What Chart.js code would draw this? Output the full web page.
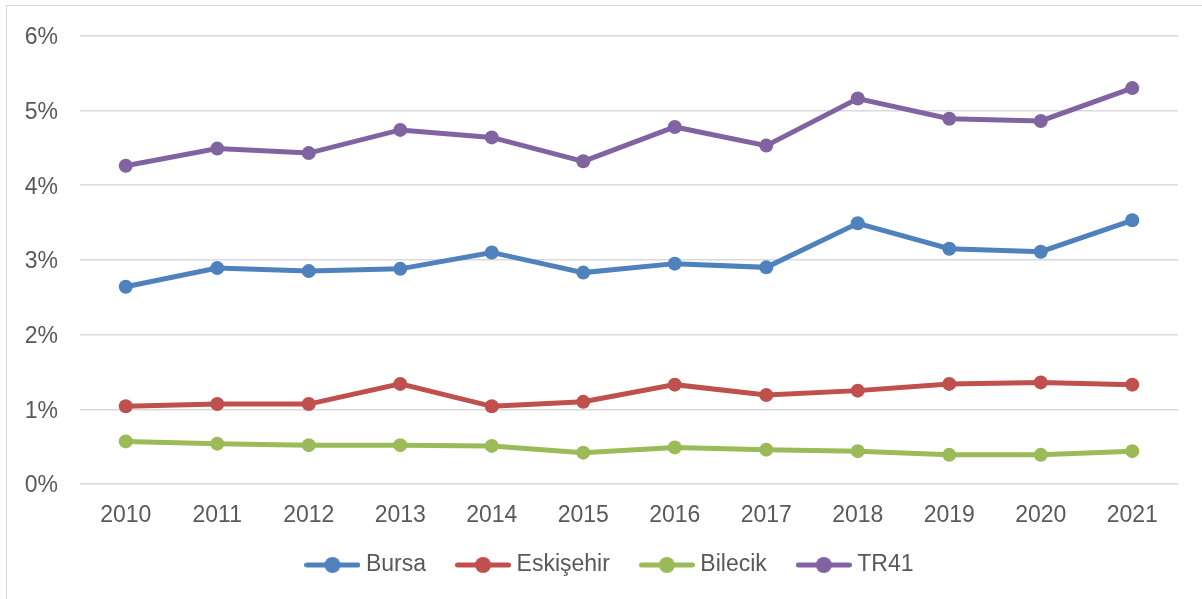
<!DOCTYPE html>
<html>
<head>
<meta charset="utf-8">
<script src="https://cdn.jsdelivr.net/npm/chart.js@4"></script>
<style>
  html, body { margin: 0; padding: 0; background: #fff; }
  body { width: 1202px; height: 599px; position: relative; overflow: hidden; }
  .frame { position: absolute; left: 6px; top: 5px; width: 1300px; height: 700px; border: 1.5px solid #d9d9d9; }
  .wrap { position: absolute; left: 0; top: 0; width: 1202px; height: 599px; }
</style>
</head>
<body>
<div class="frame"></div>
<div class="wrap"><canvas id="myChart" width="1202" height="599"></canvas></div>
<script>
const years = ["2010", "2011", "2012", "2013", "2014", "2015", "2016", "2017", "2018", "2019", "2020", "2021"];
const bursa = [2.64, 2.89, 2.85, 2.88, 3.10, 2.83, 2.95, 2.90, 3.49, 3.15, 3.11, 3.53];
const eskisehir = [1.04, 1.07, 1.07, 1.34, 1.04, 1.10, 1.33, 1.19, 1.25, 1.34, 1.36, 1.33];
const bilecik = [0.57, 0.54, 0.52, 0.52, 0.51, 0.42, 0.49, 0.46, 0.44, 0.39, 0.39, 0.44];
const tr41 = [4.26, 4.49, 4.43, 4.74, 4.64, 4.32, 4.78, 4.53, 5.16, 4.89, 4.86, 5.30];
const seriesNames = ["Bursa", "Eskişehir", "Bilecik", "TR41"];
const colors = ["#4f81bd", "#c0504d", "#9bbb59", "#8064a2"];
const yTicks = [0, 1, 2, 3, 4, 5, 6];

const FONT = { family: "'Liberation Sans', Arial", size: 23 };

// legend icon: short line with a dot in the middle
function legendIcon(color) {
  const c = document.createElement("canvas");
  c.width = 56;
  c.height = 18;
  const g = c.getContext("2d");
  g.strokeStyle = color;
  g.lineWidth = 5;
  g.lineCap = "round";
  g.beginPath();
  g.moveTo(2.5, 9);
  g.lineTo(53.5, 9);
  g.stroke();
  g.fillStyle = color;
  g.beginPath();
  g.arc(28, 9, 8, 0, Math.PI * 2);
  g.fill();
  return c;
}

// legend sits a bit right of the plot centre and closer to the axis labels
const legendShift = {
  id: "legendShift",
  afterLayout(chart) {
    const lg = chart.legend;
    lg.left += 23;
    lg.right += 23;
    lg.top -= 12.5;
    lg.bottom -= 12.5;
  },
};

const values = [bursa, eskisehir, bilecik, tr41];
const datasets = seriesNames.map((name, i) => ({
  label: name,
  data: values[i],
  borderColor: colors[i],
  backgroundColor: colors[i],
  borderWidth: 5,
  pointRadius: 7,
  pointHoverRadius: 7,
  pointBorderWidth: 0,
  tension: 0,
}));

const ctx = document.getElementById("myChart");
new Chart(ctx, {
  type: "line",
  data: { labels: years, datasets: datasets },
  plugins: [legendShift],
  options: {
    responsive: false,
    animation: false,
    devicePixelRatio: 1,
    layout: { padding: { top: 35.5, right: 24, bottom: 0, left: 0 } },
    plugins: {
      tooltip: { enabled: false },
      legend: {
        position: "bottom",
        labels: {
          usePointStyle: true,
          pointStyleWidth: 44,
          padding: 35,
          color: "#595959",
          font: FONT,
          generateLabels: (chart) => {
            const items = Chart.defaults.plugins.legend.labels.generateLabels(chart);
            items.forEach((it, i) => { it.pointStyle = legendIcon(colors[i]); });
            return items;
          },
        },
      },
    },
    scales: {
      x: {
        offset: true,
        grid: { display: false },
        border: { display: false },
        ticks: {
          color: "#595959",
          padding: 10,
          maxRotation: 0,
          font: FONT,
        },
        afterFit: (scale) => { scale.height = 47; },
      },
      y: {
        min: 0,
        max: 6,
        afterBuildTicks: (scale) => { scale.ticks = yTicks.map(v => ({ value: v })); },
        grid: { color: "#d9d9d9", lineWidth: 1.5, drawTicks: false },
        border: { display: false },
        ticks: {
          color: "#595959",
          padding: 22,
          labelOffset: 2,
          font: FONT,
          callback: (v) => v + "%",
        },
        afterFit: (scale) => { scale.width = 80; },
      },
    },
  },
});
</script>
</body>
</html>
